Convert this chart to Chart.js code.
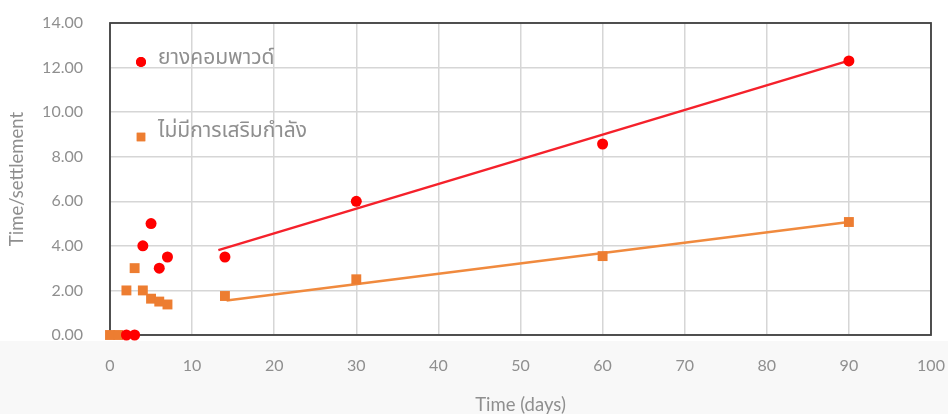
<!DOCTYPE html>
<html>
<head>
<meta charset="utf-8">
<script src="https://cdn.jsdelivr.net/npm/chart.js@4/dist/chart.umd.min.js"></script>
<style>
  html, body { margin: 0; padding: 0; background: #ffffff; }
  #wrap { width: 948px; height: 414px; position: relative; }
</style>
</head>
<body>
<div id="wrap"><canvas id="c" width="948" height="414"></canvas></div>
<script>
// ---- data ----
const seriesNames = ['ยางคอมพาวด์', 'ไม่มีการเสริมกำลัง'];
const rubberX = [2, 3, 4, 5, 6, 7, 14, 30, 60, 90];
const rubberY = [0, 0, 4.0, 5.0, 3.0, 3.5, 3.5, 6.0, 8.57, 12.3];
const plainX = [0, 1, 2, 3, 4, 5, 6, 7, 14, 30, 60, 90];
const plainY = [0, 0, 2.0, 3.0, 2.0, 1.63, 1.5, 1.37, 1.75, 2.5, 3.54, 5.07];
const rubberTrendX = [13.2, 90];
const rubberTrendY = [3.81, 12.31];
const plainTrendX = [14.2, 90];
const plainTrendY = [1.55, 5.07];
const xTicks = [0, 10, 20, 30, 40, 50, 60, 70, 80, 90, 100];
const yTicks = [0, 2, 4, 6, 8, 10, 12, 14];
const xTitle = 'Time (days)';
const yTitle = 'Time/settlement';

const zip = (xs, ys) => xs.map((x, i) => ({ x: x, y: ys[i] }));

const RED = '#ff0000';
const RED_LINE = '#f5212b';
const ORANGE = '#ed7d31';
const ORANGE_LINE = '#f08a3e';
const TEXT = '#8f8f8f';
const FONT = 'Lato, "Open Sans", "Noto Sans", sans-serif';

const bgPlugin = {
  id: 'bg',
  beforeDraw(chart) {
    const ctx = chart.ctx;
    ctx.save();
    ctx.fillStyle = '#ffffff';
    ctx.fillRect(0, 0, chart.width, chart.height);
    ctx.fillStyle = '#f8f8f8';
    ctx.fillRect(0, 341, chart.width, chart.height - 341);
    ctx.restore();
  }
};

const framePlugin = {
  id: 'frame',
  beforeDatasetsDraw(chart) {
    const { ctx, chartArea: a } = chart;
    ctx.save();
    ctx.strokeStyle = '#404040';
    ctx.lineWidth = 1.8;
    ctx.strokeRect(a.left, a.top, a.right - a.left, a.bottom - a.top);
    ctx.restore();
  }
};

const legendPlugin = {
  id: 'inLegend',
  afterDatasetsDraw(chart) {
    const ctx = chart.ctx;
    const items = [
      { ds: 0, x: 141, y: 62, ty: 60 },
      { ds: 1, x: 141, y: 137, ty: 133 }
    ];
    ctx.save();
    items.forEach(it => {
      const d = chart.data.datasets[it.ds];
      ctx.fillStyle = d.backgroundColor;
      ctx.strokeStyle = d.backgroundColor;
      Chart.helpers.drawPoint(ctx, { pointStyle: d.pointStyle, radius: it.ds === 0 ? 5 : 6, borderWidth: 0 }, it.x, it.y);
      ctx.fill();
      ctx.font = '21px "Noto Sans Thai", "Noto Sans", Lato, sans-serif';
      ctx.fillStyle = TEXT;
      ctx.textBaseline = 'middle';
      ctx.textAlign = 'left';
      ctx.fillText(d.label, 158, it.ty);
    });
    ctx.restore();
  }
};

function zeroPad(s) {
  s.paddingTop = 0; s.paddingBottom = 0; s.paddingLeft = 0; s.paddingRight = 0;
}

new Chart(document.getElementById('c'), {
  type: 'scatter',
  data: {
    datasets: [
      {
        label: seriesNames[0],
        data: zip(rubberX, rubberY),
        backgroundColor: RED,
        borderColor: RED,
        pointStyle: 'circle',
        pointRadius: 5.5,
        pointBorderWidth: 0,
        clip: false,
        order: 1
      },
      {
        label: seriesNames[1],
        data: zip(plainX, plainY),
        backgroundColor: ORANGE,
        borderColor: ORANGE,
        pointStyle: 'rect',
        pointRadius: 7,
        pointBorderWidth: 0,
        clip: false,
        order: 2
      },
      {
        label: 'trend1',
        data: zip(rubberTrendX, rubberTrendY),
        showLine: true,
        borderColor: RED_LINE,
        borderWidth: 2.5,
        pointRadius: 0,
        fill: false,
        order: 3
      },
      {
        label: 'trend2',
        data: zip(plainTrendX, plainTrendY),
        showLine: true,
        borderColor: ORANGE_LINE,
        borderWidth: 2.5,
        pointRadius: 0,
        fill: false,
        order: 4
      }
    ]
  },
  options: {
    responsive: false,
    animation: false,
    devicePixelRatio: 1,
    layout: { padding: { top: 23, right: 17, left: 0, bottom: 0 } },
    plugins: {
      legend: { display: false },
      tooltip: { enabled: false }
    },
    scales: {
      x: {
        type: 'linear',
        min: 0, max: 100,
        afterFit(s) { s.height = 79; zeroPad(s); },
        afterBuildTicks(s) { s.ticks = xTicks.map(v => ({ value: v })); },
        border: { display: false },
        grid: { color: '#d6d6d6', lineWidth: 1.5, drawTicks: false },
        ticks: { color: TEXT, padding: 21, font: { family: FONT, size: 16 }, maxRotation: 0 },
        title: { display: true, text: xTitle, color: TEXT, font: { family: FONT, size: 18.5, lineHeight: 1 }, padding: { top: 0, bottom: 0 } }
      },
      y: {
        type: 'linear',
        min: 0, max: 14,
        afterFit(s) { s.width = 110; zeroPad(s); },
        afterBuildTicks(s) { s.ticks = yTicks.map(v => ({ value: v })); },
        border: { display: false },
        grid: { color: '#d6d6d6', lineWidth: 1.5, drawTicks: false },
        ticks: { color: TEXT, padding: 27, font: { family: FONT, size: 16 }, callback: v => Number(v).toFixed(2) },
        title: { display: true, text: yTitle, color: TEXT, font: { family: FONT, size: 18.5, lineHeight: 1 }, padding: { top: 8, bottom: 0 } }
      }
    }
  },
  plugins: [bgPlugin, framePlugin, legendPlugin]
});
</script>
</body>
</html>
